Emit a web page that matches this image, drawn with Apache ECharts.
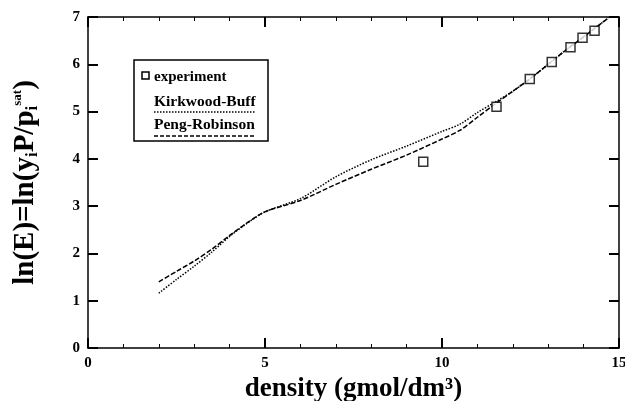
<!DOCTYPE html>
<html>
<head>
<meta charset="utf-8">
<script src="https://cdn.jsdelivr.net/npm/echarts@6/dist/echarts.min.js"></script>
<style>
  html, body { margin: 0; padding: 0; background: #fff; }
  #mycharts { width: 625px; height: 401px; }
</style>
</head>
<body>
<div id="mycharts"></div>
<script>
// experiment points: density, ln(E)
var expDensity = [9.47, 11.54, 12.48, 13.1, 13.63, 13.97, 14.31];
var expLnE = [3.94, 5.1, 5.69, 6.05, 6.36, 6.56, 6.71];

// Kirkwood-Buff model curve
var kbDensity = [2, 2.5, 3, 3.5, 4, 4.5, 5, 6, 7, 8, 9, 10, 10.5, 11, 11.5, 12, 12.5, 13, 13.5, 14, 14.7];
var kbLnE = [1.16, 1.45, 1.73, 2.03, 2.36, 2.64, 2.88, 3.16, 3.62, 3.98, 4.27, 4.58, 4.73, 4.98, 5.2, 5.43, 5.7, 6.0, 6.3, 6.58, 6.98];

// Peng-Robinson model curve
var prDensity = [2, 2.5, 3, 3.5, 4, 4.5, 5, 6, 7, 8, 9, 10, 10.5, 11, 11.5, 12, 12.5, 13, 13.5, 14, 14.7];
var prLnE = [1.4, 1.62, 1.84, 2.09, 2.38, 2.65, 2.88, 3.12, 3.46, 3.78, 4.08, 4.42, 4.6, 4.88, 5.16, 5.43, 5.7, 6.0, 6.3, 6.58, 6.98];

function pairs(xs, ys) {
    return xs.map(function (x, i) { return [x, ys[i]]; });
}

var font = 'Liberation Serif';
var myChart = echarts.init(document.getElementById('mycharts'));

// frame settings, a fresh object for each axis
function frame(minor) {
    return {
        axisLine: { show: true, onZero: false, lineStyle: { color: '#000', width: 1.5 } },
        axisTick: { show: true, inside: true, length: 10, lineStyle: { color: '#000', width: 2 } },
        minorTick: minor ? { show: true, splitNumber: 5, length: 4, lineStyle: { color: '#000', width: 1 } } : { show: false },
        splitLine: { show: false }
    };
}
var hiddenLabel = { show: true, color: 'rgba(0,0,0,0)', fontSize: 10 };

var option = {
    backgroundColor: '#fff',
    animation: false,
    grid: { left: 88, right: 6, top: 17, bottom: 53, outerBoundsMode: 'none' },
    xAxis: [
        Object.assign({
            type: 'value', min: 0, max: 15, interval: 5,
            name: 'density (gmol/dm³)',
            nameLocation: 'middle', nameGap: 21,
            nameTextStyle: { fontFamily: font, fontWeight: 'bold', fontSize: 27, color: '#000', verticalAlign: 'top' },
            axisLabel: { fontFamily: font, fontWeight: 'bold', fontSize: 15, color: '#000', margin: 8 }
        }, frame(true)),
        Object.assign({
            type: 'value', min: 0, max: 15, interval: 5, position: 'top',
            axisLabel: hiddenLabel
        }, frame(true))
    ],
    yAxis: [
        Object.assign({
            type: 'value', min: 0, max: 7, interval: 1,
            name: '{n|ln(E)=ln(y}{s|i}{n|P/p}{s|i}{p|sat}{n|)}',
            nameLocation: 'middle', nameGap: 47,
            nameTextStyle: {
                rich: {
                    n: { fontFamily: font, fontWeight: 'bold', fontSize: 29, color: '#000' },
                    s: { fontFamily: font, fontWeight: 'bold', fontSize: 17, color: '#000', padding: [13, 0, 0, 0] },
                    p: { fontFamily: font, fontWeight: 'bold', fontSize: 13, color: '#000', padding: [0, 0, 16, 0] }
                }
            },
            axisLabel: { fontFamily: font, fontWeight: 'bold', fontSize: 15, color: '#000', margin: 8 }
        }, frame(false)),
        Object.assign({
            type: 'value', min: 0, max: 7, interval: 1, position: 'right',
            axisLabel: hiddenLabel
        }, frame(false))
    ],
    graphic: [
        { type: 'rect', shape: { x: 134, y: 60, width: 134, height: 81 },
          style: { fill: '#fff', stroke: '#000', lineWidth: 1.5 }, z: 10 },
        { type: 'rect', shape: { x: 142, y: 72, width: 7, height: 7 },
          style: { fill: '#fff', stroke: '#000', lineWidth: 1.5 }, z: 11 },
        { type: 'text', x: 154, y: 77, z: 11,
          style: { text: 'experiment', font: 'bold 15px "Liberation Serif"', fill: '#000', verticalAlign: 'middle' } },
        { type: 'text', x: 154, y: 102, z: 11,
          style: { text: 'Kirkwood-Buff', font: 'bold 15.5px "Liberation Serif"', fill: '#000', verticalAlign: 'middle' } },
        { type: 'line', shape: { x1: 154, y1: 112, x2: 255, y2: 112 }, z: 11,
          style: { stroke: '#000', lineWidth: 1.5, lineDash: [1.5, 1.5] } },
        { type: 'text', x: 154, y: 125, z: 11,
          style: { text: 'Peng-Robinson', font: 'bold 15.5px "Liberation Serif"', fill: '#000', verticalAlign: 'middle' } },
        { type: 'line', shape: { x1: 154, y1: 136, x2: 255, y2: 136 }, z: 11,
          style: { stroke: '#000', lineWidth: 1.5, lineDash: [4, 2] } }
    ],
    series: [
        {
            name: 'Kirkwood-Buff', type: 'line', data: pairs(kbDensity, kbLnE),
            smooth: 0.3, symbol: 'none',
            lineStyle: { color: '#000', width: 1.5, type: [1.5, 1.5] }
        },
        {
            name: 'Peng-Robinson', type: 'line', data: pairs(prDensity, prLnE),
            smooth: 0.3, symbol: 'none',
            lineStyle: { color: '#000', width: 1.5, type: [5, 2] }
        },
        {
            name: 'experiment', type: 'scatter', data: pairs(expDensity, expLnE),
            symbol: 'rect', symbolSize: 9,
            itemStyle: { color: '#fff', borderColor: '#000', borderWidth: 1.5 },
            z: 5
        }
    ]
};

myChart.setOption(option);
</script>
</body>
</html>
